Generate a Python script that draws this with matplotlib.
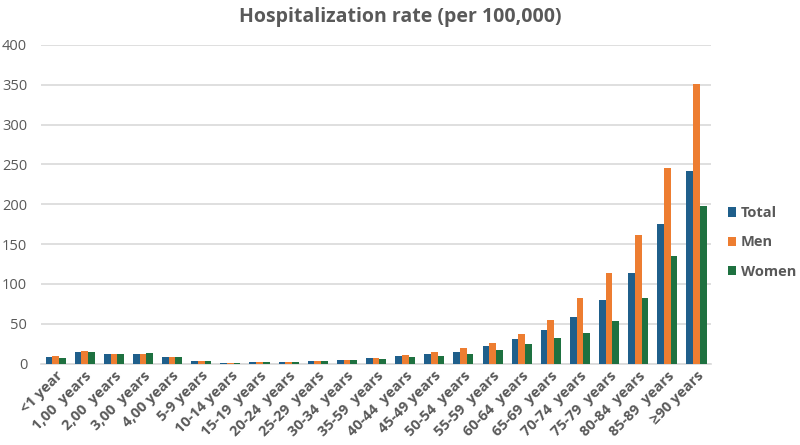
import matplotlib
matplotlib.use("Agg")
import matplotlib.pyplot as plt
import numpy as np

plt.rcParams['font.family'] = ['Open Sans', 'DejaVu Sans']

categories = ["<1 year", "1,00  years", "2,00  years", "3,00  years", "4,00 years",
              "5-9 years", "10-14 years", "15-19  years", "20-24  years", "25-29  years",
              "30-34  years", "35-59  years", "40-44  years", "45-49 years", "50-54  years",
              "55-59  years", "60-64  years", "65-69  years", "70-74  years", "75-79  years",
              "80-84  years", "85-89  years", "\u226590 years"]
total = [8, 14.7, 12, 12.6, 8, 3, 1, 2, 2.5, 3, 4.5, 6.5, 9.3, 11.5, 14.7, 21.5,
         30.3, 42.5, 58.5, 80, 114, 175, 242]
men = [9.5, 15.5, 12, 12, 8, 3, 1, 2.5, 2.5, 3.5, 5, 7.5, 10.5, 14, 19, 25.7,
       37, 54.7, 82, 114, 161, 246, 351]
women = [7, 14, 12.5, 13, 8, 3, 1, 2, 2.5, 3, 4, 6, 8, 9.3, 11.4, 16.8,
         24, 31.5, 38.7, 53.4, 82, 134.5, 197.5]

series = [("Total", total, "#1F5F8B"), ("Men", men, "#ED7D31"), ("Women", women, "#1E7140")]

fig = plt.figure(figsize=(8, 4.45), dpi=100)
ax = fig.add_axes([0.0513, 0.183, 0.8375, 0.716])

x = np.arange(len(categories))
w = 0.23
for i, (name, vals, col) in enumerate(series):
    ax.bar(x + (i - 1) * w, vals, width=w, color=col, label=name, zorder=3)

ax.set_xlim(-0.5, len(categories) - 0.5)
ax.set_ylim(0, 400)
ax.set_yticks(range(0, 401, 50))
ax.grid(axis='y', color='#D9D9D9', linewidth=1.2, zorder=0)
for s in ['top', 'right', 'left']:
    ax.spines[s].set_visible(False)
ax.spines['bottom'].set_color('#D9D9D9')
ax.spines['bottom'].set_linewidth(1.2)
ax.tick_params(axis='both', length=0, labelcolor='#595959')
ax.tick_params(axis='y', labelsize=10.5, pad=10)
ax.set_xticks(x)
ax.set_xticklabels(categories, rotation=45, ha='right', rotation_mode='anchor',
                   fontsize=10.5, fontweight='bold')

fig.suptitle("Hospitalization rate (per 100,000)", x=0.5, y=0.985, fontsize=14,
             fontweight='bold', color='#595959')

ax.legend(loc='center left', bbox_to_anchor=(1.005, 0.38), frameon=False,
          prop={'size': 10.5, 'weight': 'bold'}, labelcolor='#595959',
          handlelength=0.6, handleheight=0.6, handletextpad=0.3, labelspacing=1.05)

fig.savefig("out.png", dpi=100)
